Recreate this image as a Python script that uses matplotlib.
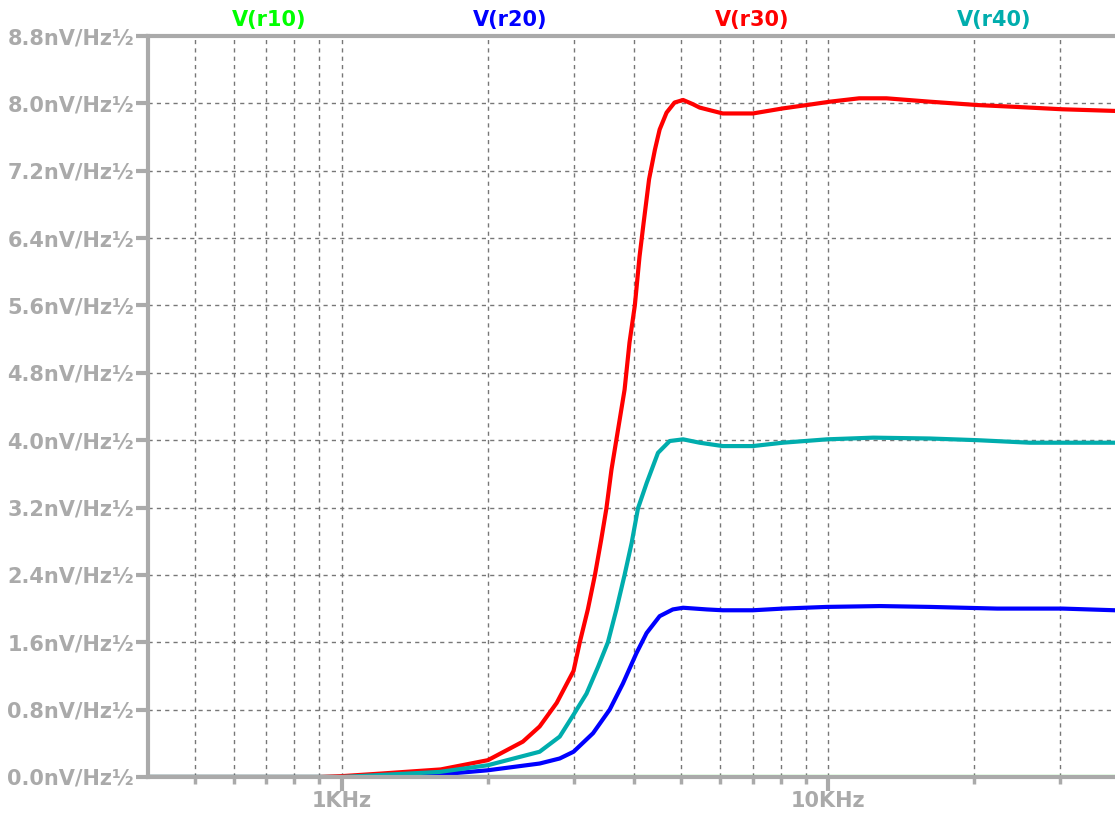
import matplotlib.pyplot as plt
from matplotlib.ticker import FixedLocator, NullFormatter

# noise density traces (Hz, nV/Hz^0.5)
r10_f = [400, 39000]
r10_v = [0.0, 0.0]

r20_f = [400, 1000, 1590, 2000, 2555, 2810, 3000, 3290, 3560, 3790, 4040, 4240, 4510,
         4800, 5040, 5640, 6080, 7010, 8080, 9960, 12800, 16200, 22300, 30400, 39000]
r20_v = [0.0, 0.0, 0.03, 0.08, 0.16, 0.22, 0.30, 0.52, 0.80, 1.11, 1.47, 1.71, 1.91,
         1.99, 2.01, 1.99, 1.98, 1.98, 2.00, 2.02, 2.03, 2.02, 2.00, 2.00, 1.98]

r30_f = [400, 900, 1000, 1200, 1600, 2000, 2360, 2555, 2770, 3000, 3090, 3210, 3320,
         3420, 3505, 3590, 3690, 3820, 3910, 4010, 4100, 4180, 4290, 4410, 4510, 4660,
         4840, 5040, 5280, 5450, 6080, 7010, 8080, 9050, 10100, 11600, 13200, 16200,
         20300, 24000, 30300, 39000]
r30_v = [0.0, 0.0, 0.01, 0.04, 0.09, 0.20, 0.42, 0.60, 0.88, 1.26, 1.60, 1.99, 2.40,
         2.82, 3.19, 3.65, 4.07, 4.60, 5.16, 5.60, 6.18, 6.58, 7.10, 7.45, 7.69, 7.89,
         8.01, 8.04, 7.99, 7.95, 7.88, 7.88, 7.94, 7.98, 8.02, 8.06, 8.06, 8.02,
         7.98, 7.96, 7.93, 7.91]

r40_f = [400, 1000, 1590, 2000, 2555, 2810, 3000, 3190, 3370, 3530, 3675, 3820, 3950,
         4070, 4240, 4475, 4730, 5040, 5450, 6080, 7010, 8080, 9960, 12400, 16200, 20300,
         26000, 39000]
r40_v = [0.0, 0.0, 0.06, 0.14, 0.30, 0.48, 0.74, 0.99, 1.31, 1.60, 1.99, 2.40, 2.78,
         3.19, 3.49, 3.85, 3.99, 4.01, 3.97, 3.93, 3.93, 3.97, 4.01, 4.03, 4.02, 4.00,
         3.97, 3.97]

y_ticks = [0.0, 0.8, 1.6, 2.4, 3.2, 4.0, 4.8, 5.6, 6.4, 7.2, 8.0, 8.8]
x_minor = [500, 600, 700, 800, 900, 2000, 3000, 4000, 5000, 6000, 7000, 8000, 9000,
           20000, 30000]
x_major = [1000, 10000]
x_major_labels = ['1KHz', '10KHz']

traces = [('V(r10)', r10_f, r10_v, '#00ff00'),
          ('V(r20)', r20_f, r20_v, '#0000ff'),
          ('V(r30)', r30_f, r30_v, '#ff0000'),
          ('V(r40)', r40_f, r40_v, '#00adad')]

gray = '#aaaaaa'
plt.rcParams['font.family'] = 'DejaVu Sans'

fig = plt.figure(figsize=(11.15, 8.14), dpi=100)
ax = fig.add_axes([148 / 1115, 37 / 814, 1 - 148 / 1115, 741 / 814])

for name, f, v, c in traces:
    ax.plot(f, v, color=c, lw=3, solid_joinstyle='round', solid_capstyle='round')

ax.set_xscale('log')
ax.set_xlim(400, 38950)
ax.set_ylim(0, 8.8)

ax.xaxis.set_major_locator(FixedLocator(x_major))
ax.xaxis.set_minor_locator(FixedLocator(x_minor))
ax.set_xticklabels(x_major_labels)
ax.xaxis.set_minor_formatter(NullFormatter())
ax.set_yticks(y_ticks)
ax.set_yticklabels([f'{v:.1f}nV/Hz½' for v in y_ticks])

ax.grid(True, which='both', color='#777777', lw=1.0, linestyle=(0, (3, 3)))
ax.set_axisbelow(True)

ax.tick_params(axis='y', direction='out', length=9, width=3, color=gray, pad=1,
               labelcolor=gray, labelsize=15)
ax.tick_params(axis='x', which='major', direction='out', length=10, width=3, color=gray,
               pad=0, labelcolor=gray, labelsize=15)
ax.tick_params(axis='x', which='minor', direction='out', length=5, width=2.5, color=gray)
for lab in ax.get_xticklabels() + ax.get_yticklabels():
    lab.set_fontweight('bold')

for side in ['left', 'top', 'bottom']:
    ax.spines[side].set_color(gray)
    ax.spines[side].set_linewidth(3)
ax.spines['right'].set_visible(False)

# trace names across the top, as in the LTspice header
for i, (name, f, v, c) in enumerate(traces):
    ax.text((i + 0.5) / 4, 1.0 + 16 / 741, name, transform=ax.transAxes, ha='center',
            va='center', color=c, fontsize=15, fontweight='bold')

fig.savefig('out.png', dpi=100)
